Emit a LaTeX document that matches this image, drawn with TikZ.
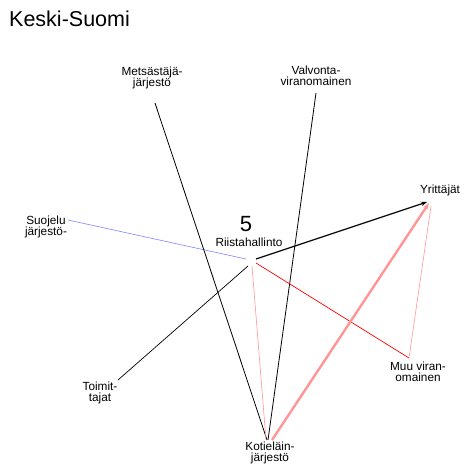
\documentclass[tikz,border=0pt]{standalone}
\usepackage{fontspec}
\setmainfont{Liberation Sans}
\usetikzlibrary{arrows.meta,calc}
\begin{document}
\begin{tikzpicture}[x=1pt,y=-1pt,
  lbl/.style={font=\fontsize{11.8}{11}\selectfont, align=center, inner sep=0pt},
  blk/.style={draw=black, line width=0.8pt},
  pnk/.style={draw={rgb,255:red,255;green,150;blue,150}, line width=0.8pt},
  arr/.style={-{Stealth[length=7pt,width=5pt]}}]
\useasboundingbox (0,0) rectangle (466,468);
\node[anchor=west, inner sep=0pt, font=\fontsize{21.5}{21.5}\selectfont] (title) at (9,19) {Keski-Suomi};
\node[inner sep=0pt, font=\fontsize{22}{22}\selectfont] (num) at (246,224) {5};
\node[lbl] (rh) at (249,242) {Riistahallinto};
\node[lbl] (yr) at (440,190) {Yrittäjät};
\node[lbl] (sj) at (46,227) {Suojelu\\järjestö-};
\node[lbl] (tm) at (100,393) {Toimit-\\tajat};
\node[lbl] (mj) at (152,78) {Metsästäjä-\\järjestö};
\node[lbl] (vv) at (316,76) {Valvonta-\\viranomainen};
\node[lbl] (mv) at (418,372) {Muu viran-\\omainen};
\node[lbl] (kj) at (270,453) {Kotieläin-\\järjestö};
% anchor coordinates
\coordinate (hub) at (251,262);
\coordinate (yrP) at (429,203);
\coordinate (sjP) at (68,220);
\coordinate (tmP) at (118,380);
\coordinate (mjP) at (155,103);
\coordinate (vvP) at (316,93);
\coordinate (mvP) at (409,358);
\coordinate (kjP) at (267,440);
% connectors
\draw[draw={rgb,255:red,130;green,130;blue,255}, line width=0.6pt] (sjP) -- ($(hub)+(-5,-3)$);
\draw[blk] (mjP) -- (kjP);
\draw[blk] (vvP) -- ($(kjP)+(1,0)$);
\draw[blk, line width=0.7pt] (tmP) -- ($(hub)+(-3,4)$);
\draw[draw=red, line width=0.7pt] ($(hub)+(5,1)$) -- (mvP);
\draw[pnk, line width=0.6pt] ($(hub)+(1,4)$) -- ($(kjP)+(-1,0)$);
\draw[pnk, line width=0.6pt] ($(yrP)+(2,3)$) -- (mvP);
\draw[draw={rgb,255:red,255;green,150;blue,150}, line width=2.4pt, arr] ($(kjP)+(5,0)$) -- (yrP);
\draw[blk, line width=1.2pt, -{Stealth[length=6pt,width=4.5pt]}] ($(hub)+(5,-3)$) -- ($(yrP)+(-2,-1)$);
\end{tikzpicture}
\end{document}
